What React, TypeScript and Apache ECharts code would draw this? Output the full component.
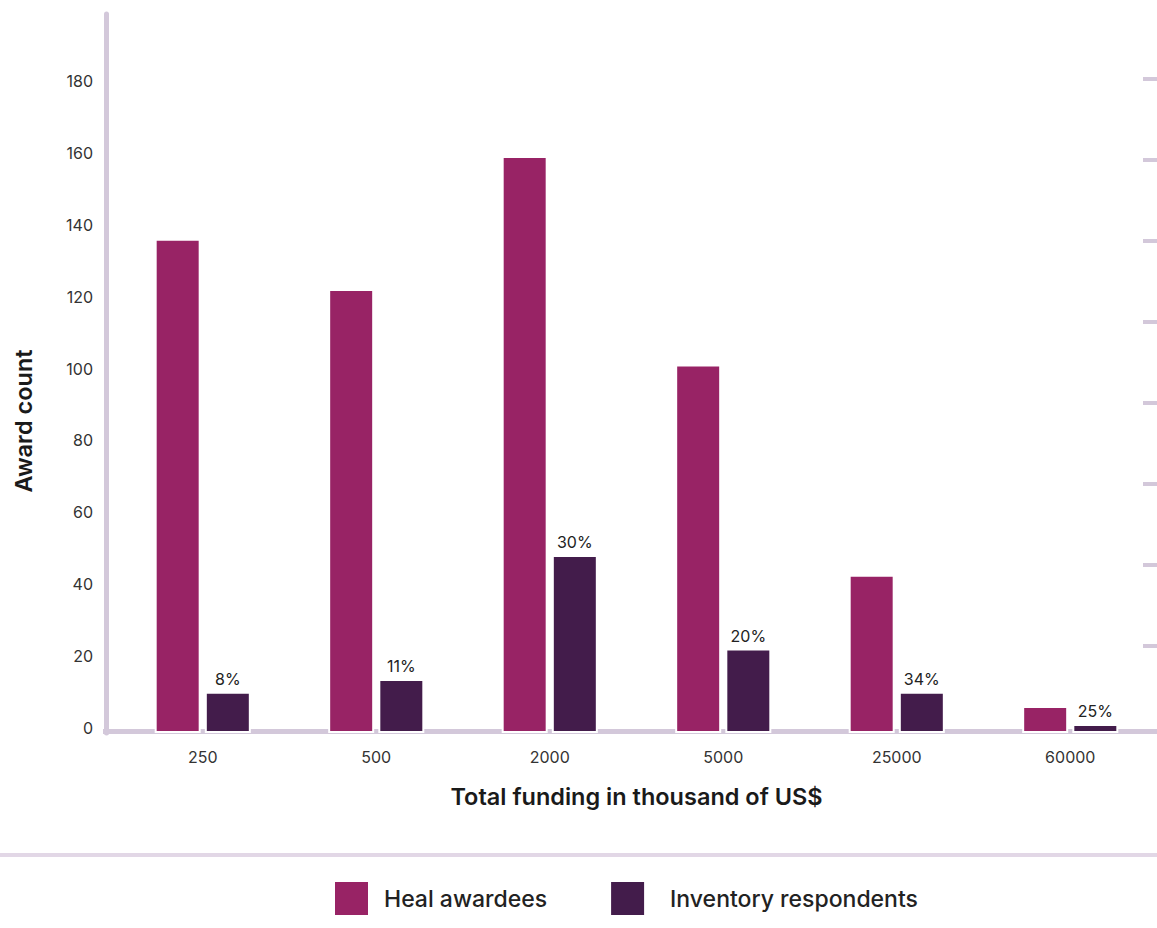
import React, { useEffect, useRef } from "react";
import * as echarts from "echarts";

const categories = ["250", "500", "2000", "5000", "25000", "60000"];
const healAwardees = [137.5, 123.5, 160.5, 102.5, 44, 7.5];
const inventoryRespondents = [11.5, 15, 49.5, 23.5, 11.5, 2.5];
const inventoryShares = ["8%", "11%", "30%", "20%", "34%", "25%"];
const rightTickValues = [1, 2, 3, 4, 5, 6, 7, 8];

const HEAL = "#982365";
const INV = "#431c4b";
const AXIS = "#d3c8da";
const FONT = "Inter";

export default function App() {
  const ref = useRef<HTMLDivElement>(null);
  useEffect(() => {
    document.body.style.margin = "0";
    const chart = echarts.init(ref.current!, null, { renderer: "svg" });
    chart.setOption({
      animation: false,
      textStyle: { fontFamily: FONT },
      grid: { left: 116, right: -2, top: 14, bottom: 195 },
      legend: {
        left: 333,
        top: 880,
        padding: 0,
        itemWidth: 35,
        itemHeight: 35,
        itemGap: 62,
        icon: "rect",
        textStyle: { fontSize: 23, fontWeight: 500, color: "#222", fontFamily: FONT },
        data: [
          { name: "Heal awardees", textStyle: { padding: [0, 0, 0, 10] } },
          { name: "Inventory respondents", textStyle: { padding: [0, 0, 0, 20] } },
        ],
      },
      xAxis: {
        type: "category",
        data: categories,
        offset: -1.5,
        axisLine: { lineStyle: { color: AXIS, width: 5 } },
        axisTick: { show: false },
        axisLabel: { fontSize: 16, color: "#333", margin: 17.5, fontFamily: FONT },
        name: "Total funding in thousand of US$",
        nameLocation: "middle",
        nameGap: 53,
        nameTextStyle: { fontSize: 23.5, fontWeight: 600, color: "#1a1a1a", fontFamily: FONT },
      },
      yAxis: [
        {
          type: "value",
          min: 0,
          max: 200,
          interval: 20,
          offset: 10,
          axisLine: { show: true, lineStyle: { color: AXIS, width: 5 } },
          axisTick: { show: false },
          splitLine: { show: false },
          axisLabel: {
            fontSize: 16,
            color: "#333",
            margin: 13,
            showMaxLabel: false,
            verticalAlign: "bottom",
            lineHeight: 10,
            fontFamily: FONT,
          },
        },
        {
          type: "value",
          position: "right",
          min: -0.074,
          max: 8.8,
          axisLine: { show: false },
          splitLine: { show: false },
          axisLabel: { show: false },
          axisTick: {
            show: true,
            inside: true,
            length: 14,
            customValues: rightTickValues,
            lineStyle: { color: AXIS, width: 4 },
          },
        },
      ],
      series: [
        {
          name: "Heal awardees",
          type: "bar",
          data: healAwardees,
          barWidth: 46,
          barGap: "9%",
          itemStyle: { color: HEAL, borderColor: "#fff", borderWidth: 2 },
        },
        {
          name: "Inventory respondents",
          type: "bar",
          data: inventoryRespondents,
          barWidth: 46,
          itemStyle: { color: INV, borderColor: "#fff", borderWidth: 2 },
          label: {
            show: true,
            position: "top",
            distance: 5,
            fontSize: 16,
            color: "#222",
            fontFamily: FONT,
            formatter: (p: any) => inventoryShares[p.dataIndex],
          },
        },
      ],
      graphic: [
        { type: "rect", left: 103, top: 729, shape: { width: 15, height: 5 }, style: { fill: AXIS }, z: 1 },
        { type: "rect", left: 0, top: 853, shape: { width: 1157, height: 4 }, style: { fill: "#e2d7e6" } },
        {
          type: "text",
          x: 23,
          y: 421,
          rotation: Math.PI / 2,
          style: {
            text: "Award count",
            fontSize: 23.5,
            fontWeight: 600,
            fill: "#1a1a1a",
            fontFamily: FONT,
            textAlign: "center",
            textVerticalAlign: "middle",
          },
        },
      ],
    });
    return () => chart.dispose();
  }, []);
  return <div ref={ref} style={{ width: 1157, height: 928 }} />;
}
